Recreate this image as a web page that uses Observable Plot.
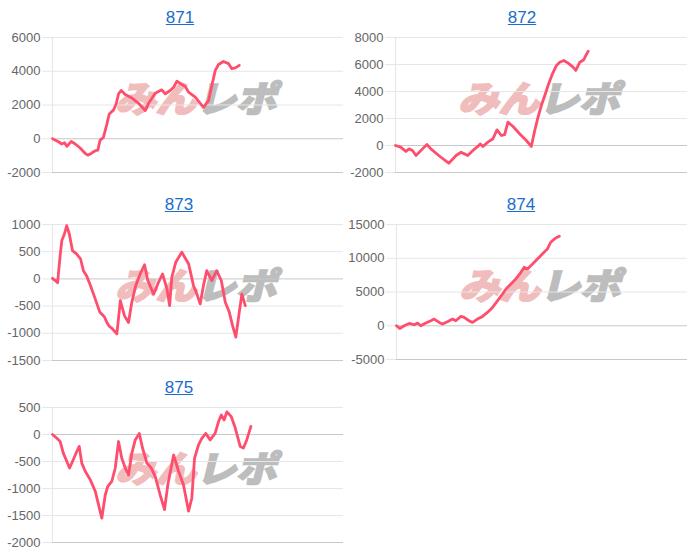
<!DOCTYPE html>
<html>
<head>
<meta charset="utf-8">
<script src="https://cdn.jsdelivr.net/npm/d3@7"></script>
<script src="https://cdn.jsdelivr.net/npm/@observablehq/plot@0.6"></script>
<style>
  html, body { margin: 0; padding: 0; background: #fff; }
  #root { position: relative; width: 700px; height: 558px; overflow: hidden; font-family: "Liberation Sans", Arial, sans-serif; }
  .title { position: absolute; width: 100px; text-align: center; font-size: 17px; line-height: 20px; }
  .title a { color: #1a6dcc; text-decoration: underline; }
  .wm { position: absolute; white-space: nowrap; font-family: "Noto Sans CJK JP", sans-serif; font-weight: 700; font-size: 36px; line-height: 40px; transform: skewX(-14deg) scaleX(1.12); transform-origin: center; z-index: 0; letter-spacing: 0px; }
  .wm .a { color: #f1bcbc; -webkit-text-stroke: 2.5px #f1bcbc; }
  .wm .b { color: #bdbdbd; -webkit-text-stroke: 2.5px #bdbdbd; }
  .plotwrap { position: absolute; z-index: 1; }
</style>
</head>
<body>
<div id="root"></div>
<script>
// ---- data (games vs. cumulative diff) ----
const names = ["871", "872", "873", "874", "875"];

const games871 = [0,165,255,330,395,515,625,760,900,970,1065,1175,1245,1310,1400,1495,1560,1680,1750,1815,1890,2000,2180,2365,2550,2640,2825,3005,3100,3235,3330,3420,3555,3650,3740,3925,4150,4290,4380,4475,4565,4700,4840,4930,5025,5135];
const diff871  = [0,-180,-310,-240,-450,-160,-310,-550,-870,-970,-870,-710,-670,-80,80,870,1470,1710,2060,2660,2860,2620,2420,2100,1670,2100,2700,2900,2660,2860,3050,3410,3210,3100,2760,2460,1860,2260,3150,4050,4400,4580,4450,4150,4200,4350];

const games872 = [0,140,285,375,465,560,650,740,860,970,1110,1245,1385,1460,1550,1660,1795,1890,1980,2120,2255,2320,2395,2530,2670,2780,2900,2990,3080,3220,3400,3585,3720,3815,3905,3995,4090,4180,4300,4410,4500,4610,4730,4865,4940,5050,5160,5215,5280];
const diff872  = [0,-120,-440,-250,-370,-740,-500,-250,70,-250,-570,-870,-1160,-1310,-1060,-740,-500,-620,-740,-370,-70,120,-70,250,500,1160,740,810,1730,1410,870,370,-70,1110,2100,2960,3700,4440,5310,5930,6170,6300,6100,5800,5560,6170,6350,6670,6990];

const games873 = [0,75,140,210,255,330,390,460,550,660,770,850,935,1025,1160,1300,1430,1495,1560,1650,1770,1865,1980,2090,2180,2290,2410,2530,2620,2780,2915,3025,3145,3220,3280,3390,3555,3740,3875,3970,4060,4150,4240,4380,4515,4640,4750,4860,4950,5040,5135,5205,5300];
const diff873  = [10,-30,-70,430,700,830,980,830,520,460,370,150,60,-90,-340,-610,-700,-800,-870,-920,-1010,-400,-680,-800,-430,-120,90,260,-30,-280,-60,90,-180,-490,30,310,490,280,-120,-280,-460,-120,150,-30,150,-30,-430,-610,-860,-1070,-610,-280,-490,-740,-810];

const games874 = [0,90,210,350,490,580,670,805,945,1035,1175,1265,1400,1540,1630,1770,1860,1995,2090,2225,2365,2500,2640,2780,2915,3010,3145,3280,3420,3510,3600,3740,3875,4015,4150,4240,4365,4475];
const diff874  = [0,-400,0,340,150,400,0,400,740,990,490,250,590,990,740,1380,1230,740,490,990,1380,1980,2720,3710,4700,5450,6190,6930,7920,8660,8420,9160,9900,10650,11390,12370,12960,13260];

const games875 = [0,120,210,300,395,470,550,670,735,805,900,1040,1175,1265,1355,1450,1520,1630,1725,1815,1905,2000,2090,2180,2275,2385,2475,2595,2715,2825,2960,3080,3170,3330,3465,3600,3740,3830,3905,4015,4105,4215,4335,4470,4565,4640,4720,4795,4915,5025,5160,5250,5340,5455];
const diff875  = [0,-70,-130,-350,-500,-620,-500,-310,-220,-530,-680,-840,-1050,-1300,-1550,-1120,-960,-870,-620,-130,-440,-620,-750,-350,-100,20,-250,-530,-620,-780,-1120,-1390,-930,-380,-680,-930,-1420,-1180,-440,-190,-70,20,-100,20,240,360,270,420,330,120,-220,-250,-100,150];

const ticks871 = [-2000, 0, 2000, 4000, 6000];
const ticks872 = [-2000, 0, 2000, 4000, 6000, 8000];
const ticks873 = [-1500, -1000, -500, 0, 500, 1000];
const ticks874 = [-5000, 0, 5000, 10000, 15000];
const ticks875 = [-2000, -1500, -1000, -500, 0, 500];

const gameDomain = [0, 8000];

// ---- layout ----
const panels = [
  {name: names[0], games: games871, diff: diff871, ticks: ticks871, pl: 0,   fl: 52,  fr: 343, ft: 37,  fb: 172, tx: 180, ty: 18},
  {name: names[1], games: games872, diff: diff872, ticks: ticks872, pl: 350, fl: 395, fr: 687, ft: 37,  fb: 172, tx: 522, ty: 18},
  {name: names[2], games: games873, diff: diff873, ticks: ticks873, pl: 0,   fl: 52,  fr: 343, ft: 224, fb: 360, tx: 179, ty: 205},
  {name: names[3], games: games874, diff: diff874, ticks: ticks874, pl: 350, fl: 396, fr: 687, ft: 224, fb: 359, tx: 521, ty: 205},
  {name: names[4], games: games875, diff: diff875, ticks: ticks875, pl: 0,   fl: 52,  fr: 343, ft: 407, fb: 542, tx: 179, ty: 388}
];

const root = document.getElementById("root");
const pad = 10;

for (const p of panels) {
  // title
  const t = document.createElement("div");
  t.className = "title";
  t.style.left = (p.tx - 50) + "px";
  t.style.top = (p.ty - 10) + "px";
  t.innerHTML = `<a href="#">${p.name}</a>`;
  root.appendChild(t);

  // watermark
  const wm = document.createElement("div");
  wm.className = "wm";
  wm.innerHTML = `<span class="a">みん</span><span class="b">レポ</span>`;
  root.appendChild(wm);
  const cx = (p.fl + p.fr) / 2 + 2;
  const cy = (p.ft + p.fb) / 2 - 9;
  wm.style.left = (cx - wm.offsetWidth / 2) + "px";
  wm.style.top = (cy - wm.offsetHeight / 2) + "px";

  const data = p.games.map((g, i) => ({game: g, diff: p.diff[i]}));
  const ymin = p.ticks[0], ymax = p.ticks[p.ticks.length - 1];
  const width = 350;
  const height = (p.fb - p.ft) + 2 * pad;

  const chart = Plot.plot({
    width, height,
    marginLeft: p.fl - p.pl,
    marginRight: p.pl + width - p.fr,
    marginTop: pad,
    marginBottom: pad,
    style: {background: "transparent", fontFamily: "'Liberation Sans', Arial, sans-serif", overflow: "visible"},
    x: {domain: gameDomain, axis: null},
    y: {domain: [ymin, ymax], axis: null},
    marks: [
      Plot.ruleY(p.ticks, {stroke: d => (d === 0 || d === ymin) ? "#c8c8c8" : "#e6e6e6", strokeWidth: 1}),
      Plot.ruleX([0], {stroke: "#e6e6e6"}),
      Plot.axisY({
        ticks: p.ticks, tickSize: 10, tickPadding: 2, stroke: "#e6e6e6",
        fill: "#666", fontSize: 13, tickFormat: d => String(d), label: null
      }),
      Plot.line(data, {x: "game", y: "diff", stroke: "#ff4d6d", strokeWidth: 2.8, strokeLinejoin: "round", strokeLinecap: "round"})
    ]
  });
  const w = document.createElement("div");
  w.className = "plotwrap";
  w.style.left = p.pl + "px";
  w.style.top = (p.ft - pad) + "px";
  w.appendChild(chart);
  root.appendChild(w);
}
</script>
</body>
</html>
